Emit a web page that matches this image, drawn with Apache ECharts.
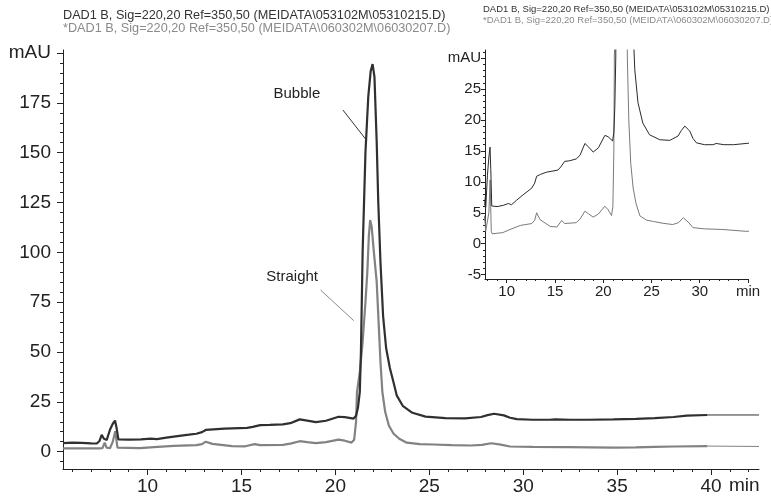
<!DOCTYPE html>
<html><head><meta charset="utf-8">
<script src="https://cdn.jsdelivr.net/npm/echarts@6/dist/echarts.min.js"></script>
<style>html,body{margin:0;padding:0;background:#fff}#c{width:771px;height:499px}</style>
</head><body><div id="c"></div>
<script>
// ---- data (retention time in min, absorbance in mAU) ----
const bubbleTime = [5.5,6.0,6.5,7.0,7.3,7.45,7.56,7.68,7.83,8.0,8.15,8.27,8.35,8.45,9.0,9.65,10.17,10.5,11.0,11.7,12.2,12.6,12.9,13.1,13.5,14.1,15.3,15.6,16.0,16.5,17.2,17.6,18.1,18.5,18.96,19.5,20.17,20.5,20.97,21.1,21.2,21.3,21.36,21.45,21.6,21.75,21.88,21.98,22.08,22.2,22.28,22.4,22.54,22.7,22.9,23.1,23.27,23.6,24.1,24.8,25.86,26.9,27.75,28.1,28.45,28.97,29.3,29.66,30.5,31.4,31.7,32.5,33.5,34.8,36.0,37.0,38.0,38.7,39.8];
const bubbleValues = [4.3,4.5,4.4,4.2,4.1,5.5,8.4,6.5,5.9,11,14,15.6,12,6.1,6.0,6.2,6.5,6.3,7.0,7.9,8.5,9.0,9.8,10.9,11.2,11.55,11.9,12.4,13.3,13.4,13.7,14.3,16.2,15.6,14.8,15.5,17.5,17.3,16.6,18,22,30,50,100,150,178,191,194.4,188,155,126,95,68,52,42,34.6,28.1,22.8,19.5,17.6,16.8,16.7,17.4,18.3,19.0,18.2,17.0,16.3,16.0,16.0,16.2,16.0,16.0,16.2,16.4,16.8,17.4,18.1,18.4];
const bubbleTailTime = [39.8, 42.55];
const bubbleTailValues = [18.4, 18.4];

const straightTime = [5.5,6.5,7.4,7.6,7.72,7.82,8.0,8.15,8.28,8.4,8.5,9.6,10.34,11.4,12.6,12.9,13.1,13.45,14.5,15.2,15.7,16.0,17.2,17.6,18.1,18.5,18.96,19.5,20.17,20.5,20.86,21.0,21.1,21.15,21.3,21.45,21.6,21.7,21.78,21.85,21.93,22.05,22.2,22.3,22.4,22.5,22.65,22.85,23.1,23.4,23.8,24.5,25.2,26.2,27.2,27.8,28.3,28.8,29.3,30.5,32.4,34.8,36.0,37.0,38.0,39.8];
const straightValues = [1.6,1.7,1.6,1.8,4.5,2.0,1.7,5.0,10.3,2.0,1.6,1.8,2.3,2.95,3.26,3.8,5.0,3.9,2.8,2.7,3.75,3.26,3.4,4.0,5.25,4.8,4.3,4.8,6.06,5.5,4.55,6,15,30,40,55,75,90,108,116.2,113,100,85,65,45,30,20,13,9,6.5,4.5,3.8,3.6,3.3,3.1,3.4,4.2,3.5,2.6,2.4,2.3,2.0,2.1,2.4,2.6,2.8];
const straightTailTime = [39.8, 42.55];
const straightTailValues = [2.8, 2.6];

const mainXTicks = [10,15,20,25,30,35,40];
const mainYTicks = [0,25,50,75,100,125,150,175,200];
const insetXTicks = [10,15,20,25,30,35];
const insetYTicks = [-5,0,5,10,15,20,25,30];

const headerLines = [
  'DAD1 B, Sig=220,20 Ref=350,50 (MEIDATA\\053102M\\05310215.D)',
  '*DAD1 B, Sig=220,20 Ref=350,50 (MEIDATA\\060302M\\06030207.D)'
];
const seriesNames = ['Bubble', 'Straight'];

// ---- helpers ----
const pairs = (t, v) => t.map((x, i) => [x, v[i]]);
const steps = (a, b, s) => { const r = []; for (let x = a; x <= b + 1e-9; x += s) r.push(+x.toFixed(6)); return r; };

const FONT = "'Liberation Sans', Arial, Helvetica, sans-serif";
const AX = '#222';
const DARK = '#303030';
const GRAY = '#828282';

function majorX(grid, min, max, ticks, lab, fs, tickLen, margin) {
  return { type:'value', gridIndex:grid, min, max, position:'bottom',
    axisLine:{show:true, onZero:false, lineStyle:{color:AX, width:1}},
    axisTick:{show:true, inside:false, length:tickLen, customValues:ticks, lineStyle:{color:AX}},
    axisLabel:{show:true, customValues:ticks, margin, color:AX, fontSize:fs, fontFamily:FONT, formatter:lab},
    splitLine:{show:false} };
}
function minorX(grid, min, max, ticks, tickLen) {
  return { type:'value', gridIndex:grid, min, max, position:'bottom',
    axisLine:{show:false, onZero:false}, axisLabel:{show:false},
    axisTick:{show:true, length:tickLen, customValues:ticks, lineStyle:{color:AX}},
    splitLine:{show:false} };
}
function majorY(grid, min, max, ticks, lab, fs, tickLen, margin) {
  return { type:'value', gridIndex:grid, min, max, position:'left',
    axisLine:{show:true, onZero:false, lineStyle:{color:AX, width:1}},
    axisTick:{show:true, length:tickLen, customValues:ticks, lineStyle:{color:AX}},
    axisLabel:{show:true, customValues:ticks, margin, color:AX, fontSize:fs, fontFamily:FONT, formatter:lab},
    splitLine:{show:false} };
}
function minorY(grid, min, max, ticks, tickLen) {
  return { type:'value', gridIndex:grid, min, max, position:'left',
    axisLine:{show:false, onZero:false}, axisLabel:{show:false},
    axisTick:{show:true, length:tickLen, customValues:ticks, lineStyle:{color:AX}},
    splitLine:{show:false} };
}

const chart = echarts.init(document.getElementById('c'), null, {renderer:'canvas'});
const lineS = (name, xi, yi, data, color, w, extra) => Object.assign({
  name, type:'line', xAxisIndex:xi, yAxisIndex:yi, data, showSymbol:false, symbol:'none',
  lineStyle:{color, width:w}, itemStyle:{color}, clip:true, animation:false, z:3
}, extra || {});

chart.setOption({
  animation:false,
  backgroundColor:'#fff',
  grid:[
    {left:63, right:12, top:50, bottom:30},
    {left:485, right:23, top:50, bottom:220}
  ],
  xAxis:[
    majorX(0, 5.5, 42.55, mainXTicks, v => String(v), 19, 6, 8),
    minorX(0, 5.5, 42.55, steps(6, 42, 1), 3),
    majorX(1, 7.75, 35, insetXTicks, v => (v === 35 ? 'min' : String(v)), 15, 4, 5),
    minorX(1, 7.75, 35, steps(8, 35, 1), 2)
  ],
  yAxis:[
    majorY(0, -8.7, 201.5, mainYTicks, v => (v === 200 ? 'mAU' : String(v)), 19, 6, 12),
    minorY(0, -8.7, 201.5, steps(-5, 200, 5), 3),
    majorY(1, -5.7, 31.3, insetYTicks, v => (v === 30 ? 'mAU' : String(v)), 15, 4, 4),
    minorY(1, -5.7, 31.3, steps(-5, 31, 1), 2)
  ],
  series:[
    lineS(seriesNames[1], 0, 0, pairs(straightTime, straightValues), GRAY, 2.2, {
      markLine:{silent:true, symbol:'none', animation:false, label:{show:false},
        lineStyle:{color:'#8a8a8a', width:1, type:'solid'},
        data:[[{coord:[19.21, 81.1]}, {coord:[20.98, 65.7]}]]},
      markPoint:{silent:true, animation:false, symbol:'circle', symbolSize:0,
        label:{show:true, position:'inside', formatter:seriesNames[1], color:'#222', fontSize:15, fontFamily:FONT},
        data:[{coord:[17.7, 87.5]}]}
    }),
    lineS(seriesNames[0], 0, 0, pairs(bubbleTime, bubbleValues), DARK, 2.2, {
      markLine:{silent:true, symbol:'none', animation:false, label:{show:false},
        lineStyle:{color:'#333', width:1, type:'solid'},
        data:[[{coord:[20.4, 171.4]}, {coord:[21.61, 156.8]}]]},
      markPoint:{silent:true, animation:false, symbol:'circle', symbolSize:0,
        label:{show:true, position:'inside', formatter:seriesNames[0], color:'#222', fontSize:15, fontFamily:FONT},
        data:[{coord:[17.95, 179.5]}]}
    }),
    lineS(seriesNames[1] + ' tail', 0, 0, pairs(straightTailTime, straightTailValues), GRAY, 1),
    lineS(seriesNames[0] + ' tail', 0, 0, pairs(bubbleTailTime, bubbleTailValues), DARK, 1),
    lineS(seriesNames[1] + ' inset', 2, 2, pairs(straightTime, straightValues), '#7a7a7a', 1),
    lineS(seriesNames[0] + ' inset', 2, 2, pairs(bubbleTime, bubbleValues), '#2a2a2a', 1)
  ],
  graphic:[
    {type:'text', left:63, top:9, style:{text:headerLines[0], fill:'#333', font:'12.7px ' + FONT}},
    {type:'text', left:63, top:22, style:{text:headerLines[1], fill:'#8a8a8a', font:'12.7px ' + FONT}},
    {type:'text', left:483, top:4, style:{text:headerLines[0], fill:'#333', font:'9.5px ' + FONT}},
    {type:'text', left:483, top:15, style:{text:headerLines[1], fill:'#8a8a8a', font:'9.5px ' + FONT}},
    {type:'text', left:729, top:476, style:{text:'min', fill:AX, font:'19px ' + FONT}}
  ]
});
</script></body></html>
